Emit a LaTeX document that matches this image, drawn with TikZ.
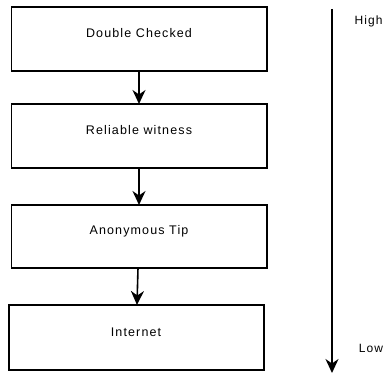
\documentclass[tikz,border=0pt]{standalone}
\usepackage{fontspec}
\setmainfont[LetterSpace=9]{Liberation Sans}
\usetikzlibrary{arrows.meta}
\begin{document}
\begin{tikzpicture}[x=1pt,y=-1pt,
  box/.style={draw,line width=1.8pt,rectangle},
  lbl/.style={font=\fontsize{12.5}{14}\selectfont,inner sep=0pt},
  side/.style={font=\fontsize{12}{14}\selectfont,inner sep=0pt},
  conn/.style={line width=1.6pt,-{Stealth[length=14pt,width=13pt,inset=4.5pt]}}]
\useasboundingbox (0,0) rectangle (384,374);
\draw[box] (11.5,7) rectangle (267,71);
\node[lbl] (t1) at (139,33) {Double Checked};
\draw[box] (11.5,104) rectangle (267,168);
\node[lbl] (t2) at (139,130) {Reliable witness};
\draw[box] (11.5,205) rectangle (267,268);
\node[lbl] (t3) at (139,231) {Anonymous Tip};
\draw[box] (9,305) rectangle (264,370);
\node[lbl] (t4) at (136,332) {Internet};
\coordinate (a1s) at (139,71); \coordinate (a1e) at (139,104);
\coordinate (a2s) at (139,168); \coordinate (a2e) at (139,205);
\coordinate (a3s) at (138,268); \coordinate (a3e) at (137,305);
\draw[conn] (a1s) -- (a1e);
\draw[conn] (a2s) -- (a2e);
\draw[conn] (a3s) -- (a3e);
\coordinate (hs) at (332,9); \coordinate (he) at (332,373);
\draw[conn] (hs) -- (he);
\node[side] (hi) at (368.5,21) {High};
\node[side] (lo) at (371,348) {Low};
\end{tikzpicture}
\end{document}
